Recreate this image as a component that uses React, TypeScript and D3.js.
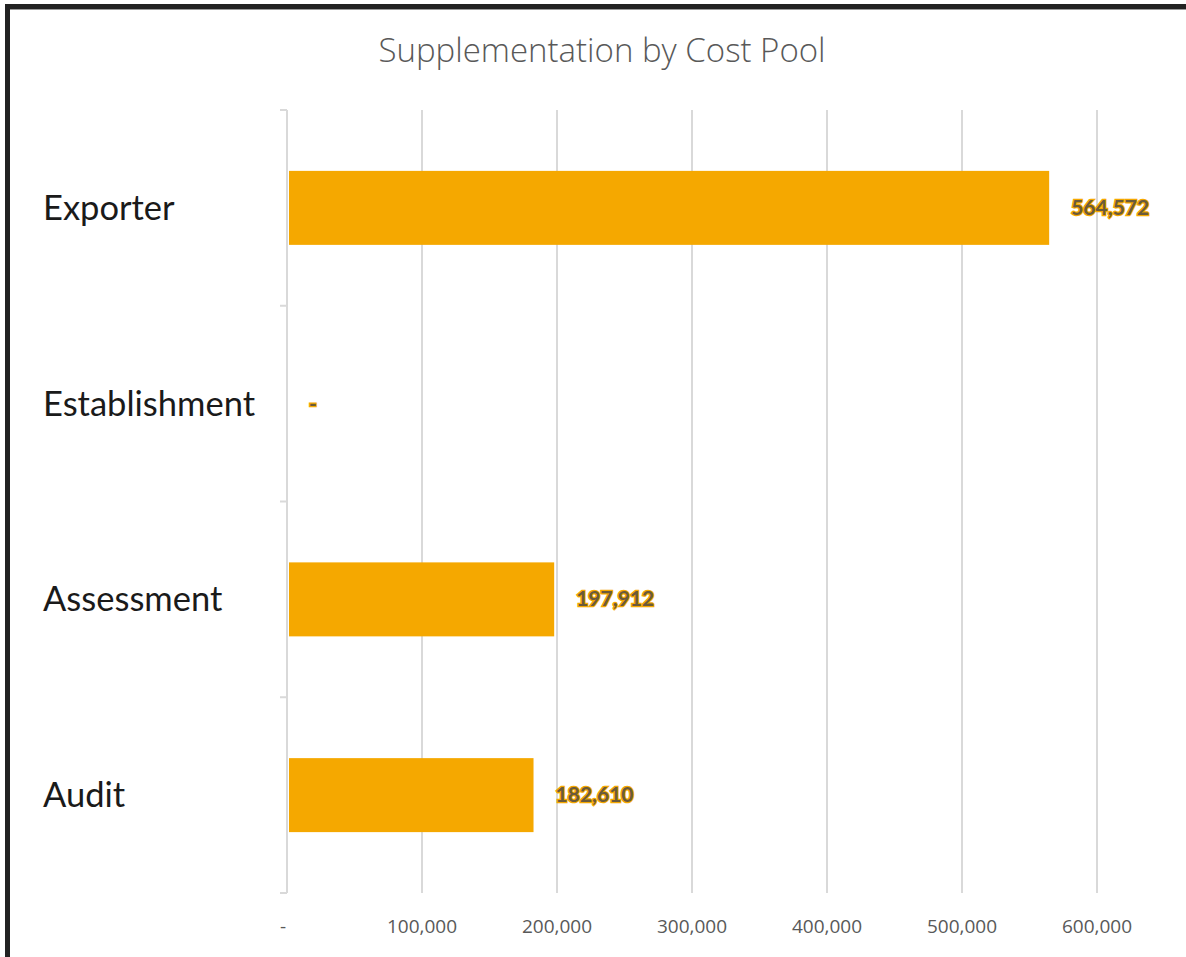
import React, { useEffect, useRef } from "react";
import * as d3 from "d3";

const categories = ["Exporter", "Establishment", "Assessment", "Audit"];
const values = [564572, 0, 197912, 182610];
const tickValues = [0, 100000, 200000, 300000, 400000, 500000, 600000];
const chartTitle = "Supplementation by Cost Pool";

const W = 1186;
const H = 957;
const plot = { left: 287, right: 1097, top: 110, bottom: 893 };

function fmt(v: number) {
  return v === 0 ? "-" : d3.format(",")(v);
}

function renderChart(svgEl: SVGSVGElement) {
  const svg = d3.select(svgEl);
  svg.selectAll("*").remove();

  // frame (cropped screenshot border)
  svg.append("rect").attr("width", W).attr("height", H).attr("fill", "#fff");
  svg.append("rect")
    .attr("x", 7.5).attr("y", 6.5)
    .attr("width", W + 20).attr("height", H + 20)
    .attr("fill", "none")
    .attr("stroke", "#222")
    .attr("stroke-width", 5);
  svg.append("line")
    .attr("x1", 10).attr("x2", W).attr("y1", 9.5).attr("y2", 9.5)
    .attr("stroke", "#999").attr("stroke-width", 1);

  const x = d3.scaleLinear().domain([0, 600000]).range([plot.left, plot.right]);
  const y = d3.scaleBand().domain(categories).range([plot.top, plot.bottom]).padding(0);
  const barH = y.bandwidth() * 0.378;

  // title
  svg.append("text")
    .attr("x", 602)
    .attr("y", 62)
    .attr("text-anchor", "middle")
    .attr("fill", "#595959")
    .style("font-family", "'Open Sans', 'Noto Sans', sans-serif")
    .style("font-size", "33px")
    .style("font-weight", 300)
    .text(chartTitle);

  // gridlines
  svg.append("g")
    .selectAll("line")
    .data(tickValues.filter(d => d > 0))
    .join("line")
    .attr("x1", d => x(d)).attr("x2", d => x(d))
    .attr("y1", plot.top).attr("y2", plot.bottom)
    .attr("stroke", "#d9d9d9")
    .attr("stroke-width", 2);

  // category axis with ticks at band edges
  const edges = categories.map(c => y(c) as number).concat([plot.bottom]);
  svg.append("line")
    .attr("x1", plot.left).attr("x2", plot.left)
    .attr("y1", plot.top).attr("y2", plot.bottom)
    .attr("stroke", "#d9d9d9").attr("stroke-width", 2);
  svg.append("g")
    .selectAll("line")
    .data(edges)
    .join("line")
    .attr("x1", plot.left - 7).attr("x2", plot.left)
    .attr("y1", d => d).attr("y2", d => d)
    .attr("stroke", "#d9d9d9").attr("stroke-width", 2);

  // x tick labels
  svg.append("g")
    .selectAll("text")
    .data(tickValues)
    .join("text")
    .attr("x", d => (d === 0 ? x(d) - 4 : x(d)))
    .attr("y", 933)
    .attr("text-anchor", "middle")
    .attr("fill", "#595959")
    .style("font-family", "'Open Sans', 'Noto Sans', sans-serif")
    .style("font-size", "19px")
    .style("font-weight", 400)
    .text(d => fmt(d));

  // category labels
  svg.append("g")
    .selectAll("text")
    .data(categories)
    .join("text")
    .attr("x", 43)
    .attr("y", d => (y(d) as number) + y.bandwidth() / 2 + 12)
    .attr("fill", "#1a1a1a")
    .style("font-family", "Lato, 'Noto Sans', sans-serif")
    .style("font-size", "34.5px")
    .text(d => d);

  const rows = categories.map((c, i) => ({ c, v: values[i] }));

  // bars
  svg.append("g")
    .selectAll("rect")
    .data(rows.filter(d => d.v > 0))
    .join("rect")
    .attr("x", plot.left + 2)
    .attr("y", d => (y(d.c) as number) + (y.bandwidth() - barH) / 2)
    .attr("width", d => x(d.v) - plot.left - 2)
    .attr("height", barH)
    .attr("fill", "#F5A800");

  // data labels
  svg.append("g")
    .selectAll("text")
    .data(rows)
    .join("text")
    .attr("x", d => x(d.v) + 22)
    .attr("y", d => (y(d.c) as number) + y.bandwidth() / 2 + 7)
    .attr("fill", "#6b5a3a")
    .attr("stroke", "#F5A800")
    .attr("stroke-width", 2.5)
    .style("paint-order", "stroke")
    .style("font-family", "Lato, 'Noto Sans', sans-serif")
    .style("font-size", "21px")
    .style("font-weight", 700)
    .text(d => fmt(d.v));
}

export default function App() {
  const ref = useRef<SVGSVGElement>(null);

  useEffect(() => {
    if (ref.current) renderChart(ref.current);
  }, []);

  return (
    <svg
      ref={ref}
      width={W}
      height={H}
      style={{ position: "absolute", left: 0, top: 0, display: "block" }}
    />
  );
}
